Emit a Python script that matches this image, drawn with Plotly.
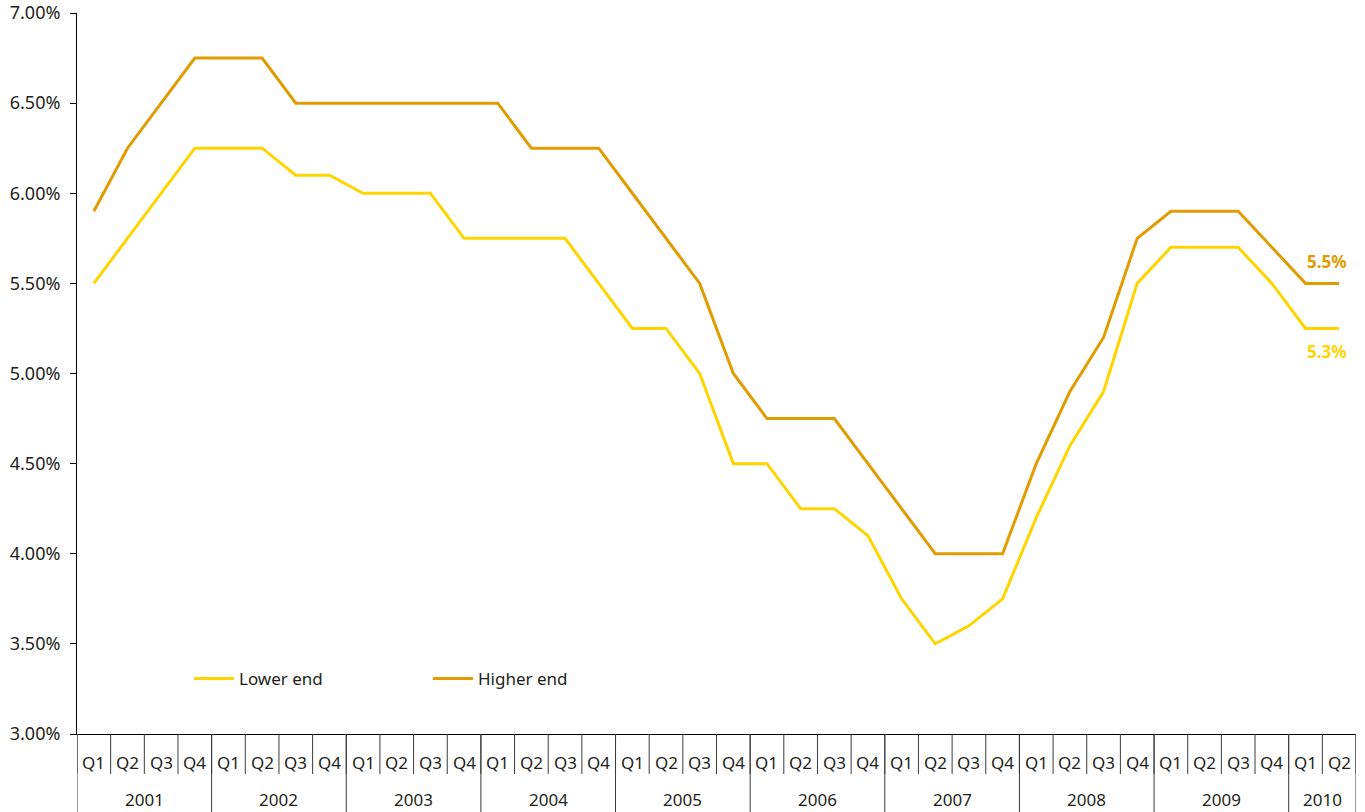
import plotly.graph_objects as go

years = ["2001", "2002", "2003", "2004", "2005", "2006", "2007", "2008", "2009", "2010"]
quarters_per_year = [4, 4, 4, 4, 4, 4, 4, 4, 4, 2]
quarter_names = ["Q1", "Q2", "Q3", "Q4"]

lower_end = [5.50, 5.75, 6.00, 6.25,
             6.25, 6.25, 6.10, 6.10,
             6.00, 6.00, 6.00, 5.75,
             5.75, 5.75, 5.75, 5.50,
             5.25, 5.25, 5.00, 4.50,
             4.50, 4.25, 4.25, 4.10,
             3.75, 3.50, 3.60, 3.75,
             4.20, 4.60, 4.90, 5.50,
             5.70, 5.70, 5.70, 5.50,
             5.25, 5.25]
higher_end = [5.90, 6.25, 6.50, 6.75,
              6.75, 6.75, 6.50, 6.50,
              6.50, 6.50, 6.50, 6.50,
              6.50, 6.25, 6.25, 6.25,
              6.00, 5.75, 5.50, 5.00,
              4.75, 4.75, 4.75, 4.50,
              4.25, 4.00, 4.00, 4.00,
              4.50, 4.90, 5.20, 5.75,
              5.90, 5.90, 5.90, 5.70,
              5.50, 5.50]
series_names = ["Lower end", "Higher end"]
end_labels = ["5.3%", "5.5%"]
y_ticks = [3.0, 3.5, 4.0, 4.5, 5.0, 5.5, 6.0, 6.5, 7.0]

LOW_COLOR = "#FFD500"
HIGH_COLOR = "#E09C00"
TEXT = "#231F20"
FONT = "Noto Sans"

# category index positions
q_labels = []
year_of = []
for y, n in zip(years, quarters_per_year):
    for k in range(n):
        q_labels.append(quarter_names[k])
        year_of.append(y)
xs = list(range(len(q_labels)))
N = len(xs)

fig = go.Figure()
fig.add_trace(go.Scatter(x=xs, y=lower_end, mode="lines", name=series_names[0],
                         line=dict(color=LOW_COLOR, width=3), hoverinfo="skip"))
fig.add_trace(go.Scatter(x=xs, y=higher_end, mode="lines", name=series_names[1],
                         line=dict(color=HIGH_COLOR, width=3), hoverinfo="skip"))

shapes = []
annotations = []
# quarter separators and labels
for i in range(N + 1):
    shapes.append(dict(type="line", xref="x", yref="paper", x0=i - 0.5, x1=i - 0.5,
                       y0=0, y1=-0.0555, line=dict(color="#3a3a3a", width=1)))
for i, q in enumerate(q_labels):
    annotations.append(dict(x=i, y=-0.0395, xref="x", yref="paper", text=q,
                            showarrow=False, font=dict(family=FONT, size=17, color=TEXT),
                            xanchor="center", yanchor="middle"))
# year separators and labels
start = 0
for y, n in zip(years, quarters_per_year):
    shapes.append(dict(type="line", xref="x", yref="paper", x0=start - 0.5, x1=start - 0.5,
                       y0=0, y1=-0.115, line=dict(color="#3a3a3a", width=1)))
    annotations.append(dict(x=start + (n - 1) / 2, y=-0.0915, xref="x", yref="paper", text=y,
                            showarrow=False, font=dict(family=FONT, size=17, color=TEXT),
                            xanchor="center", yanchor="middle"))
    start += n
shapes.append(dict(type="line", xref="x", yref="paper", x0=start - 0.5, x1=start - 0.5,
                   y0=0, y1=-0.115, line=dict(color="#3a3a3a", width=1)))

# end labels
annotations.append(dict(x=xs[-1], y=lower_end[-1], xref="x", yref="y", text=end_labels[0],
                        showarrow=False, xanchor="right", yanchor="middle", xshift=10, yshift=-23,
                        font=dict(family=FONT, size=17, color=LOW_COLOR, weight="bold")))
annotations.append(dict(x=xs[-1], y=higher_end[-1], xref="x", yref="y", text=end_labels[1],
                        showarrow=False, xanchor="right", yanchor="middle", xshift=10, yshift=22,
                        font=dict(family=FONT, size=17, color=HIGH_COLOR, weight="bold")))

fig.update_layout(
    width=1365, height=812,
    margin=dict(l=77, r=9, t=13, b=78, autoexpand=False),
    paper_bgcolor="white", plot_bgcolor="white",
    font=dict(family=FONT, size=17, color=TEXT),
    showlegend=True,
    legend=dict(orientation="h", x=(189 - 77) / 1279, xanchor="left",
                y=(734 - 679) / 721, yanchor="middle",
                bgcolor="rgba(0,0,0,0)", entrywidth=184, entrywidthmode="pixels",
                itemwidth=40,
                font=dict(family=FONT, size=17, color=TEXT)),
    xaxis=dict(range=[-0.5, N - 0.5], showgrid=False, zeroline=False, showticklabels=False,
               ticks="", showline=True, linecolor="#000000", linewidth=1, fixedrange=True,
               automargin=False),
    yaxis=dict(range=[3.0, 7.0], tickvals=y_ticks, ticktext=[f"{v:.2f}%" for v in y_ticks],
               showgrid=False, zeroline=False, showline=True, linecolor="#000000", linewidth=1,
               ticks="outside", ticklen=6, tickcolor="#000000", ticklabelstandoff=6,
               tickfont=dict(family=FONT, size=18, color=TEXT), fixedrange=True,
               automargin=False),
    shapes=shapes, annotations=annotations,
)

fig.write_html("out.html")
